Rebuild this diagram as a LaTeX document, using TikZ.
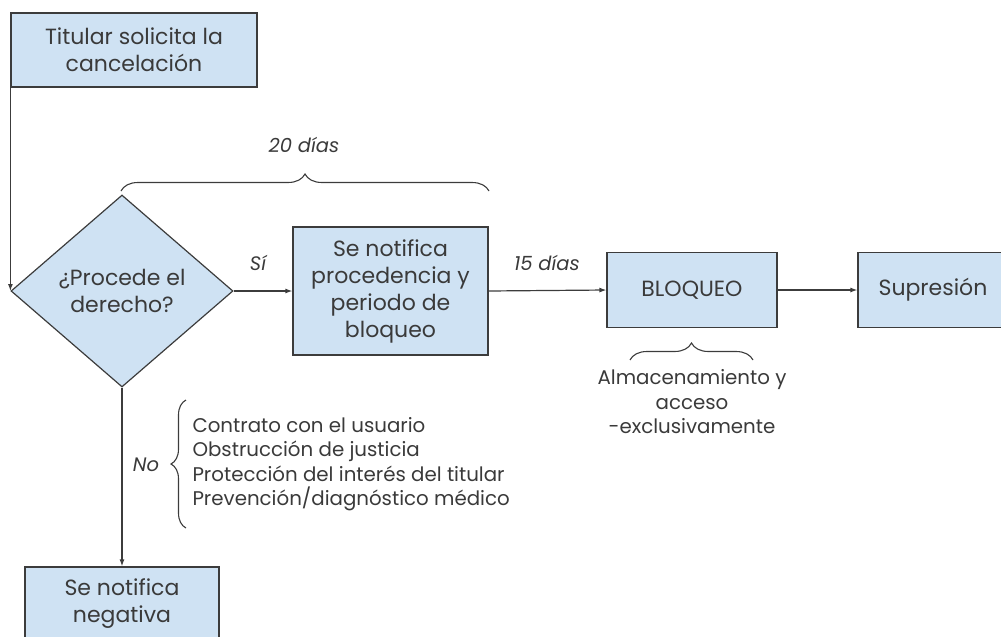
\documentclass[tikz,border=0pt]{standalone}
\usepackage{fontspec}
\setmainfont{Poppins}
\usetikzlibrary{shapes.geometric}
\usetikzlibrary{arrows.meta}
\usetikzlibrary{decorations.pathreplacing}
\definecolor{cajaazul}{HTML}{CFE2F3}
\definecolor{borde}{HTML}{3C3C3C}
\definecolor{texto}{HTML}{3A3A3A}
\tikzset{
	caja/.style={draw=borde, fill=cajaazul, line width=1.2pt, align=center, text=texto, inner sep=0pt, font=\fontsize{22}{27}\selectfont},
	pregunta/.style={caja, diamond, minimum width=222pt, minimum height=192pt},
	flecha/.style={draw=borde, line width=1.2pt, -{Latex[length=7pt,width=5pt]}},
	llave/.style={draw=borde, line width=1.1pt, decorate, decoration={brace, amplitude=17pt}},
	etiqueta/.style={text=texto, font=\fontsize{19.5}{24}\selectfont\itshape},
	lista/.style={text=texto, align=left, font=\fontsize{19.8}{24.5}\selectfont}
}

\begin{document}
\begin{tikzpicture}[x=1pt,y=-1pt]
	\useasboundingbox (0,0) rectangle (1001,637);
	\clip (0,0) rectangle (1001,637);
	% cajas
	\node [caja, minimum width=246pt, minimum height=74pt] (titular) at (134,50) {Titular solicita la\\cancelación};
	\node [pregunta] (derecho) at (122,291) {¿Procede el\\derecho?};
	\node [caja, minimum width=195pt, minimum height=128pt] (notifica) at (390.5,291) {Se notifica\\procedencia y\\periodo de\\bloqueo};
	\node [caja, minimum width=170pt, minimum height=75pt] (bloqueo) at (692,290) {BLOQUEO};
	\node [caja, minimum width=150pt, minimum height=75pt] (supresion) at (933,290) {Supresión};
	\node [caja, minimum width=194pt, minimum height=74pt] (negativa) at (122,604) {Se notifica\\negativa};
	% flechas
	\draw [flecha] (titular.south west) -- (derecho.west);
	\draw [flecha] (derecho.east) -- (notifica.west);
	\draw [flecha] (notifica.east) -- (bloqueo.west);
	\draw [flecha] (bloqueo.east) -- (supresion.west);
	\draw [flecha] (derecho.south) -- (negativa.north);
	% textos
	\node [etiqueta] (si) at (258,263) {Sí};
	\node [etiqueta] (quince) at (547,263) {15 días};
	\node [etiqueta] (veinte) at (304,145) {20 días};
	\node [etiqueta] (no) at (146,465) {No};
	\node [lista, anchor=west] (causas) at (189,464) {Contrato con el usuario\\Obstrucción de justicia\\Protección del interés del titular\\Prevención/diagnóstico médico};
	\node [lista, align=center] (almacen) at (692,402) {Almacenamiento y\\acceso\\-exclusivamente};
	% llaves
	\draw [llave] (121,191) -- (489,191);
	\draw [llave] (630,360) -- (753,360);
	\draw [llave, decoration={amplitude=15pt}] (186,528) -- (186,400);
\end{tikzpicture}
\end{document}
